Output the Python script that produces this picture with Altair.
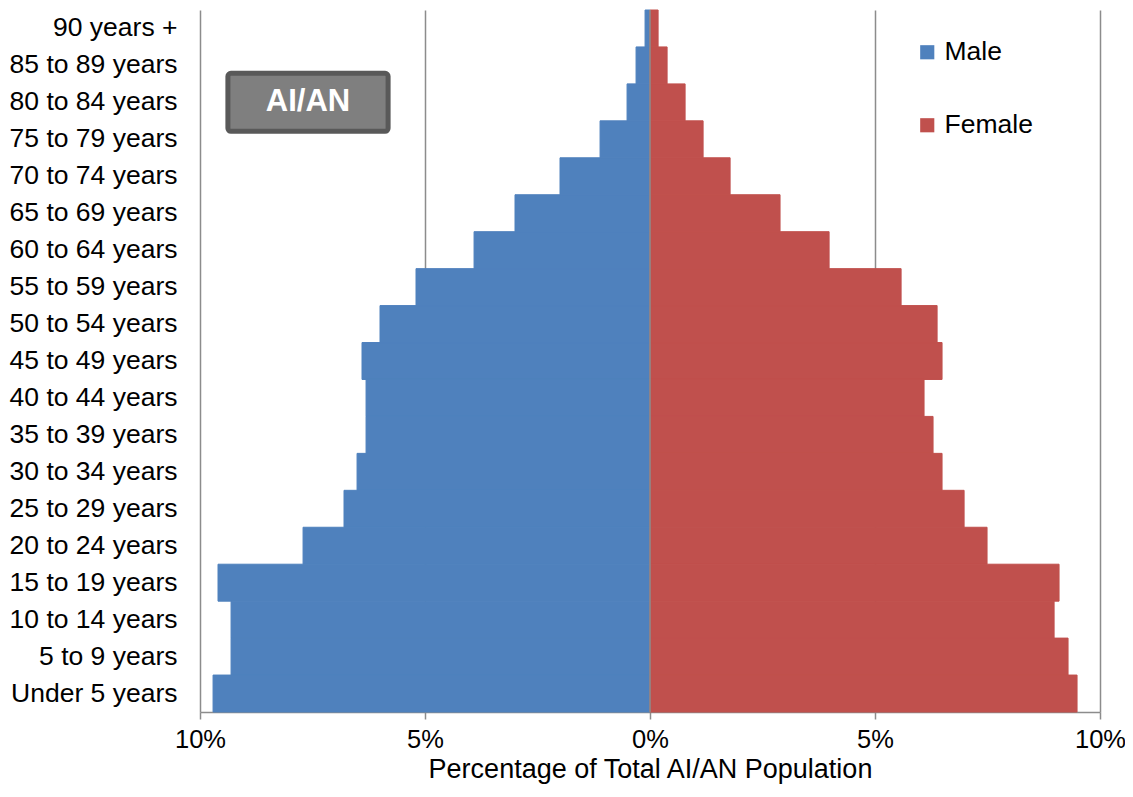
import altair as alt
import pandas as pd

age_groups = ["90 years +", "85 to 89 years", "80 to 84 years", "75 to 79 years",
              "70 to 74 years", "65 to 69 years", "60 to 64 years", "55 to 59 years",
              "50 to 54 years", "45 to 49 years", "40 to 44 years", "35 to 39 years",
              "30 to 34 years", "25 to 29 years", "20 to 24 years", "15 to 19 years",
              "10 to 14 years", "5 to 9 years", "Under 5 years"]
male_pct = [0.11, 0.31, 0.51, 1.11, 2.0, 3.0, 3.91, 5.2, 6.0, 6.4, 6.31, 6.31,
            6.51, 6.8, 7.71, 9.6, 9.31, 9.31, 9.71]
female_pct = [0.18, 0.38, 0.78, 1.18, 1.78, 2.89, 3.98, 5.58, 6.38, 6.49, 6.09, 6.29,
              6.49, 6.98, 7.49, 9.09, 8.98, 9.29, 9.49]
sexes = ["Male", "Female"]
colors = ["#4F81BD", "#C0504D"]
x_ticks = [-10, -5, 0, 5, 10]
badge_text = "AI/AN"
badge_x = [-9.38, -5.82]
badge_row = "80 to 84 years"

FONT = "Liberation Sans, Arial"

rows = []
for a, m, f in zip(age_groups, male_pct, female_pct):
    rows.append({"age": a, "sex": "Male", "value": -m, "zero": 0})
    rows.append({"age": a, "sex": "Female", "value": f, "zero": 0})
df = pd.DataFrame(rows)

xscale = alt.Scale(domain=[-10, 10], nice=False)
yscale = alt.Scale(domain=age_groups, paddingInner=0, paddingOuter=0)
cscale = alt.Scale(domain=sexes, range=colors)

bars = alt.Chart(df).mark_bar(strokeWidth=1).encode(
    x=alt.X("value:Q", scale=xscale,
            axis=alt.Axis(values=x_ticks, labelExpr="abs(datum.value) + '%'",
                          title="Percentage of Total AI/AN Population",
                          grid=True, gridColor="#8c8c8c", gridWidth=1.5,
                          domainColor="#8c8c8c", domainWidth=1.5,
                          tickColor="#8c8c8c", tickWidth=1.5, tickSize=7,
                          labelFontSize=25.5, labelPadding=8, labelColor="#000",
                          labelFlush=False,
                          labelFont=FONT, titleFont=FONT, titleFontSize=27,
                          titleFontWeight="normal", titleColor="#000", titlePadding=4)),
    x2="zero:Q",
    y=alt.Y("age:N", scale=yscale, sort=age_groups,
            axis=alt.Axis(title=None, domain=False, ticks=False, labelFontSize=26.5,
                          labelFont=FONT, labelColor="#000", labelPadding=23,
                          labelLimit=400)),
    color=alt.Color("sex:N", scale=cscale,
                    legend=alt.Legend(title=None, orient="none", legendX=714, legendY=29,
                                      symbolType="square", symbolSize=200,
                                      symbolStrokeWidth=0, labelFontSize=26.5,
                                      labelFont=FONT, labelColor="#000",
                                      rowPadding=46, labelOffset=4)),
    stroke=alt.Stroke("sex:N", scale=cscale, legend=None),
)

zero_df = pd.DataFrame({"x": [0]})
zero_rule = alt.Chart(zero_df).mark_rule(color="#8c8c8c", strokeWidth=1.5).encode(
    x=alt.X("x:Q", scale=xscale)
)

badge_df = pd.DataFrame({"x": [badge_x[0]], "x2": [badge_x[1]], "age": [badge_row],
                         "xm": [(badge_x[0] + badge_x[1]) / 2], "label": [badge_text]})
badge = alt.Chart(badge_df).mark_bar(size=58, color="#7F7F7F", stroke="#595959",
                                     strokeWidth=5, cornerRadius=3).encode(
    x=alt.X("x:Q", scale=xscale), x2="x2:Q",
    y=alt.Y("age:N", scale=yscale, sort=age_groups)
)
badge_label = alt.Chart(badge_df).mark_text(color="white", fontSize=31, fontWeight="bold",
                                            font=FONT).encode(
    x=alt.X("xm:Q", scale=xscale),
    y=alt.Y("age:N", scale=yscale, sort=age_groups),
    text="label:N"
)

chart = alt.layer(bars, zero_rule, badge, badge_label).properties(
    width=900, height=702,
    autosize=alt.AutoSizeParams(type="none"),
    padding={"left": 192, "top": 2, "right": 25, "bottom": 77},
).configure_view(stroke=None)

chart.save("out.html", embed_options={"renderer": "svg", "actions": False})
